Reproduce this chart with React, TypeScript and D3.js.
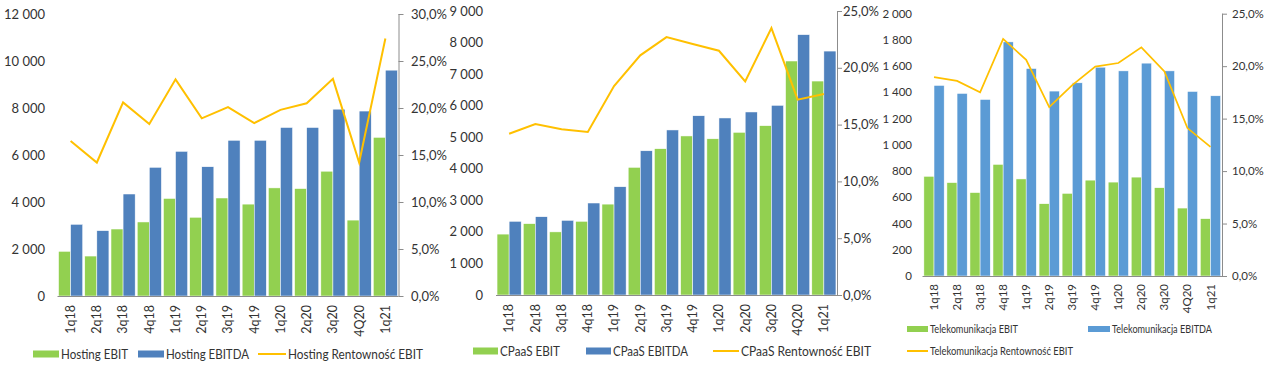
import React from "react";
import * as d3 from "d3";

const categories = ["1q18","2q18","3q18","4q18","1q19","2q19","3q19","4q19","1q20","2q20","3q20","4Q20","1q21"];

const hostingEbit = [1900, 1700, 2850, 3150, 4150, 3350, 4170, 3910, 4600, 4570, 5310, 3230, 6750];
const hostingEbitda = [3050, 2780, 4340, 5475, 6155, 5500, 6625, 6625, 7170, 7170, 7950, 7870, 9610];
const hostingMargin = [16.5, 14.2, 20.6, 18.3, 23.05, 18.9, 20.1, 18.4, 19.8, 20.5, 23.1, 14.2, 27.4];

const cpaasEbit = [1930, 2260, 2000, 2335, 2880, 4045, 4635, 5040, 4950, 5155, 5365, 7415, 6780];
const cpaasEbitda = [2335, 2480, 2365, 2915, 3430, 4570, 5230, 5680, 5610, 5800, 6010, 8250, 7730];
const cpaasMargin = [14.2, 15.05, 14.6, 14.35, 18.4, 21.1, 22.7, 22.1, 21.5, 18.8, 23.5, 17.2, 17.7];

const telcoEbit = [760, 712, 636, 851, 740, 551, 630, 731, 716, 754, 673, 518, 437];
const telcoEbitda = [1453, 1392, 1346, 1785, 1582, 1410, 1473, 1592, 1564, 1623, 1564, 1407, 1374];
const telcoMargin = [18.95, 18.6, 17.5, 22.6, 20.6, 16.1, 18.2, 19.95, 20.3, 21.8, 19.5, 14.1, 12.3];

const hostingLeftTicks = [0, 2000, 4000, 6000, 8000, 10000, 12000];
const hostingRightTicks = [0, 5, 10, 15, 20, 25, 30];
const cpaasLeftTicks = [0, 1000, 2000, 3000, 4000, 5000, 6000, 7000, 8000, 9000];
const cpaasRightTicks = [0, 5, 10, 15, 20, 25];
const telcoLeftTicks = [0, 200, 400, 600, 800, 1000, 1200, 1400, 1600, 1800, 2000];
const telcoRightTicks = [0, 5, 10, 15, 20, 25];

const GREEN = "#92D050";
const BLUE = "#4F81BD";
const BLUE3 = "#5B9BD5";
const YELLOW = "#FFC000";
const AXIS = "#8c8c8c";
const TEXT = "#333333";
const FONT = "Lato, 'Open Sans', sans-serif";

const fmtNum = (v: number) => d3.format(",")(v).replace(/,/g, " ");
const fmtPct = (v: number) => d3.format(".1f")(v).replace(".", ",") + "%";

type LegendItem = { kind: "rect" | "line"; color: string; label: string; x: number; y: number; w: number; textLen: number };

type PanelCfg = {
  ebit: number[];
  ebitda: number[];
  margin: number[];
  leftTicks: number[];
  rightTicks: number[];
  x0: number; x1: number; yTop: number; yBottom: number;
  leftLabelX: number; rightLabelX: number;
  blue: string;
  fontSize: number;
  xFont: number;
  xLabelGap: number;
  lineWidth: number;
  padInner: number; padOuter: number;
  legend: LegendItem[];
  legendFont: number;
  swatchH: number;
};

function Panel({ cfg }: { cfg: PanelCfg }) {
  const leftMax = cfg.leftTicks[cfg.leftTicks.length - 1];
  const rightMax = cfg.rightTicks[cfg.rightTicks.length - 1];
  const x = d3.scaleBand<string>().domain(categories).range([cfg.x0, cfg.x1]).paddingInner(cfg.padInner).paddingOuter(cfg.padOuter);
  const xs = d3.scaleBand<string>().domain(["ebit", "ebitda"]).range([0, x.bandwidth()]).padding(0);
  const yL = d3.scaleLinear().domain([0, leftMax]).range([cfg.yBottom, cfg.yTop]);
  const yR = d3.scaleLinear().domain([0, rightMax]).range([cfg.yBottom, cfg.yTop]);
  const cx = (c: string) => (x(c) as number) + x.bandwidth() / 2;
  const line = d3.line<number>().x((_, i) => cx(categories[i])).y((d) => yR(d));

  return (
    <g fontFamily={FONT}>
      {categories.map((c, i) => (
        <g key={c}>
          <rect x={(x(c) as number) + (xs("ebit") as number)} y={yL(cfg.ebit[i])} width={xs.bandwidth()} height={cfg.yBottom - yL(cfg.ebit[i])} fill={GREEN} stroke="#ffffff" strokeWidth={0.5} />
          <rect x={(x(c) as number) + (xs("ebitda") as number)} y={yL(cfg.ebitda[i])} width={xs.bandwidth()} height={cfg.yBottom - yL(cfg.ebitda[i])} fill={cfg.blue} stroke="#ffffff" strokeWidth={0.5} />
        </g>
      ))}
      <line x1={cfg.x0} x2={cfg.x1} y1={cfg.yBottom + 0.5} y2={cfg.yBottom + 0.5} stroke={AXIS} strokeWidth={1} />
      <line x1={cfg.x1 + 0.5} x2={cfg.x1 + 0.5} y1={cfg.yTop} y2={cfg.yBottom + 0.5} stroke={AXIS} strokeWidth={1} />
      {cfg.rightTicks.map((t) => (
        <g key={"r" + t}>
          <line x1={cfg.x1} x2={cfg.x1 + 5} y1={yR(t) + 0.5} y2={yR(t) + 0.5} stroke={AXIS} />
          <text x={cfg.rightLabelX} y={yR(t)} dy="0.35em" fontSize={cfg.fontSize} fill={TEXT}>{fmtPct(t)}</text>
        </g>
      ))}
      {cfg.leftTicks.map((t) => (
        <text key={"l" + t} x={cfg.leftLabelX} y={yL(t)} dy="0.35em" textAnchor="end" fontSize={cfg.fontSize} fill={TEXT}>{fmtNum(t)}</text>
      ))}
      {categories.map((c) => (
        <text key={"x" + c} transform={`translate(${cx(c)},${cfg.yBottom + cfg.xLabelGap}) rotate(-90)`} textAnchor="end" dy="0.35em" fontSize={cfg.xFont} fill={TEXT}>{c}</text>
      ))}
      <path d={line(cfg.margin) as string} fill="none" stroke={YELLOW} strokeWidth={cfg.lineWidth} strokeLinejoin="miter" />
      {cfg.legend.map((l) => (
        <g key={l.label}>
          {l.kind === "rect" ? (
            <rect x={l.x} y={l.y - cfg.swatchH / 2} width={l.w} height={cfg.swatchH} fill={l.color} />
          ) : (
            <line x1={l.x} x2={l.x + l.w} y1={l.y} y2={l.y} stroke={l.color} strokeWidth={2} />
          )}
          <text x={l.x + l.w + 2} y={l.y} dy="0.35em" fontSize={cfg.legendFont} fill={TEXT} textLength={l.textLen} lengthAdjust="spacingAndGlyphs">{l.label}</text>
        </g>
      ))}
    </g>
  );
}

const panels: PanelCfg[] = [
  {
    ebit: hostingEbit, ebitda: hostingEbitda, margin: hostingMargin,
    leftTicks: hostingLeftTicks, rightTicks: hostingRightTicks,
    x0: 57.5, x1: 398.5, yTop: 14, yBottom: 296,
    leftLabelX: 45, rightLabelX: 411, blue: BLUE, fontSize: 13, xFont: 12.5, xLabelGap: 9, lineWidth: 2,
    padInner: 0.08, padOuter: 0.04, legendFont: 13, swatchH: 7,
    legend: [
      { kind: "rect", color: GREEN, label: "Hosting EBIT", x: 33, y: 354, w: 26, textLen: 67 },
      { kind: "rect", color: BLUE, label: "Hosting EBITDA", x: 138, y: 354, w: 26, textLen: 83 },
      { kind: "line", color: YELLOW, label: "Hosting Rentowność EBIT", x: 258, y: 354, w: 28, textLen: 135 },
    ],
  },
  {
    ebit: cpaasEbit, ebitda: cpaasEbitda, margin: cpaasMargin,
    leftTicks: cpaasLeftTicks, rightTicks: cpaasRightTicks,
    x0: 496, x1: 837, yTop: 11, yBottom: 295,
    leftLabelX: 483, rightLabelX: 843, blue: BLUE, fontSize: 13, xFont: 12.5, xLabelGap: 9, lineWidth: 2,
    padInner: 0.08, padOuter: 0.04, legendFont: 13, swatchH: 7,
    legend: [
      { kind: "rect", color: GREEN, label: "CPaaS EBIT", x: 473, y: 351, w: 25, textLen: 60 },
      { kind: "rect", color: BLUE, label: "CPaaS EBITDA", x: 586, y: 351, w: 25, textLen: 75 },
      { kind: "line", color: YELLOW, label: "CPaaS Rentowność EBIT", x: 713, y: 351, w: 26, textLen: 130 },
    ],
  },
  {
    ebit: telcoEbit, ebitda: telcoEbitda, margin: telcoMargin,
    leftTicks: telcoLeftTicks, rightTicks: telcoRightTicks,
    x0: 922.5, x1: 1222, yTop: 13.7, yBottom: 276,
    leftLabelX: 912, rightLabelX: 1232, blue: BLUE3, fontSize: 11.5, xFont: 11.5, xLabelGap: 8, lineWidth: 1.75,
    padInner: 0.12, padOuter: 0.06, legendFont: 11, swatchH: 6,
    legend: [
      { kind: "rect", color: GREEN, label: "Telekomunikacja EBIT", x: 907, y: 329, w: 21, textLen: 88 },
      { kind: "rect", color: BLUE3, label: "Telekomunikacja EBITDA", x: 1088, y: 329, w: 22, textLen: 100 },
      { kind: "line", color: YELLOW, label: "Telekomunikacja Rentowność EBIT", x: 907, y: 351, w: 21, textLen: 143 },
    ],
  },
];

export default function App() {
  return (
    <svg width={1266} height={373} style={{ position: "absolute", left: 0, top: 0, background: "#ffffff" }}>
      <rect width={1266} height={373} fill="#ffffff" />
      {panels.map((p, i) => (
        <Panel key={i} cfg={p} />
      ))}
    </svg>
  );
}
